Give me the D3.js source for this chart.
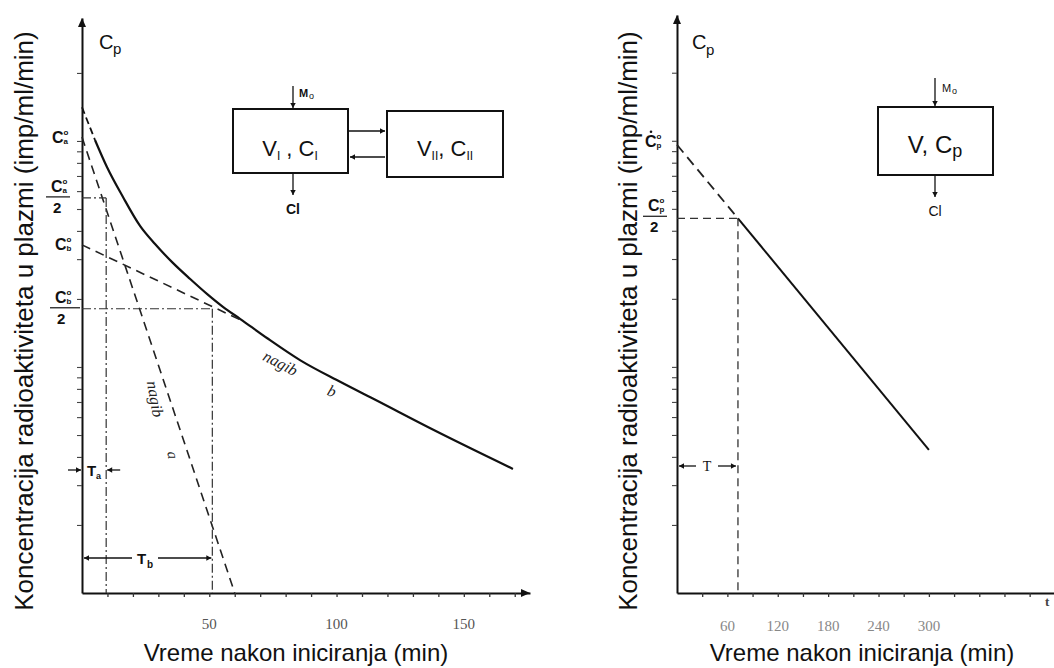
<!DOCTYPE html>
<html><head><meta charset="utf-8">
<script src="https://cdn.jsdelivr.net/npm/d3@7"></script>
<style>body{margin:0;background:#fff}svg{display:block}</style>
</head><body><svg id="c" width="1054" height="668"></svg>
<script>
// ---------- data ----------
// left panel (two-compartment model), time in min, concentration (log scale)
const curveDashT = [0, 5.1];
const curveDashC = [141, 101];
const curveT = [5.1, 9.8, 16.1, 22.8, 28.7, 35.8, 42.5, 49.2, 55.5, 62.2, 72.8, 85.8, 101.6, 115.4, 138.2, 169.3];
const curveC = [101, 76.7, 56.5, 42.1, 35.0, 28.8, 24.5, 21.0, 18.4, 16.3, 13.4, 10.7, 8.58, 7.14, 5.26, 3.54];
const lineAT = [0, 60];
const lineAC = [104, 1.0];
const lineBT = [0, 62];
const lineBC = [34.7, 16.2];
const halfA = 56, Ta = 9.5;
const halfB = 18.1, Tb = 51.2;
const ca0 = 104, cb0 = 34.7;
// right panel (one-compartment model)
const rLineT = [0, 300];
const rLineC = [96, 4.3];
const rT = 72.6, rHalf = 45.4, rC0 = 100;
// ticks
const yTicks = [2,3,4,5,6,7,8,9,10,20,30,40,50,60,70,80,90,100,200];
const xTicksL = [10,20,30,40,50,60,70,80,90,100,110,120,130,140,150,160,170];
const xLabelsL = [50,100,150];
const xTicksR = [30,60,90,120,150,180,210,240,270,300,330,360,390,420];
const xLabelsR = [60,120,180,240,300];
const yTitle = "Koncentracija radioaktiviteta u plazmi (imp/ml/min)";
const xTitle = "Vreme nakon iniciranja (min)";

// ---------- drawing ----------
const svg = d3.select("#c");
svg.append("rect").attr("width",1054).attr("height",668).attr("fill","#fff");

const yL = d3.scaleLog().domain([1, 350]).range([593, 18]);
const yR = d3.scaleLog().domain([1, 360]).range([593, 15]);
const xL = d3.scaleLinear().domain([0, 176]).range([82, 530]);
const xR = d3.scaleLinear().domain([0, 449]).range([677, 1054]);

const SANS = "'Liberation Sans', Arial, sans-serif";
const SERIF = "'Liberation Serif', 'DejaVu Serif', serif";

function axes(g, x, y, xt) {
  const ya = g.append("g").attr("transform", `translate(${x.range()[0]},0)`)
    .call(d3.axisLeft(y).tickValues(yTicks).tickSize(5).tickSizeOuter(0).tickFormat(""));
  ya.select(".domain").attr("stroke","#111").attr("stroke-width",2);
  ya.selectAll(".tick line").attr("stroke","#444").attr("stroke-width",1.1);
  const xa = g.append("g").attr("transform", `translate(0,593)`)
    .call(d3.axisBottom(x).tickValues(xt).tickSize(4).tickSizeOuter(0).tickFormat(""));
  xa.select(".domain").attr("stroke","#111").attr("stroke-width",2);
  xa.selectAll(".tick line").attr("stroke","#333").attr("stroke-width",1.3);
  const ax = x.range()[0], ay = y.range()[1];
  g.append("path").attr("d", `M${ax-4},${ay+9}L${ax},${ay}L${ax+4},${ay+9}Z`).attr("fill","#111");
}

const gL = svg.append("g");
const gR = svg.append("g");
axes(gL, xL, yL, xTicksL);
axes(gR, xR, yR, xTicksR);
gL.append("path").attr("d", `M${xL.range()[1]-9},589L${xL.range()[1]},593L${xL.range()[1]-9},597Z`).attr("fill","#111");

const line = (x, y) => d3.line().x(d => x(d[0])).y(d => y(d[1]));
const zip = (a, b) => a.map((v, i) => [v, b[i]]);

// main curve
gL.append("path").datum(zip(curveT, curveC))
  .attr("d", line(xL, yL).curve(d3.curveMonotoneX))
  .attr("fill","none").attr("stroke","#111").attr("stroke-width",2.2);
gL.append("path").datum(zip(curveDashT, curveDashC))
  .attr("d", line(xL, yL)).attr("fill","none").attr("stroke","#111")
  .attr("stroke-width",1.8).attr("stroke-dasharray","7,4");
// line a and line b (dashed)
gL.append("path").datum(zip(lineAT, lineAC)).attr("d", line(xL, yL))
  .attr("fill","none").attr("stroke","#222").attr("stroke-width",1.6).attr("stroke-dasharray","9,6");
gL.append("path").datum(zip(lineBT, lineBC)).attr("d", line(xL, yL))
  .attr("fill","none").attr("stroke","#222").attr("stroke-width",1.6).attr("stroke-dasharray","9,6");
// dash-dot construction lines
const dd = "9,3,2,3";
function dashDot(g, x1, y1, x2, y2) {
  g.append("line").attr("x1",x1).attr("y1",y1).attr("x2",x2).attr("y2",y2)
    .attr("stroke","#333").attr("stroke-width",1.2).attr("stroke-dasharray",dd);
}
dashDot(gL, xL(0), yL(halfA), xL(Ta), yL(halfA));
dashDot(gL, xL(Ta), yL(halfA), xL(Ta), yL(1));
dashDot(gL, xL(0), yL(halfB), xL(Tb), yL(halfB));
dashDot(gL, xL(Tb), yL(halfB), xL(Tb), yL(1));

// right line
gR.append("path").datum([[rLineT[0], rLineC[0]], [rT, rHalf]]).attr("d", line(xR, yR))
  .attr("fill","none").attr("stroke","#222").attr("stroke-width",1.8).attr("stroke-dasharray","10,6");
gR.append("path").datum([[rT, rHalf], [rLineT[1], rLineC[1]]]).attr("d", line(xR, yR))
  .attr("fill","none").attr("stroke","#111").attr("stroke-width",2);
gR.append("line").attr("x1",xR(0)).attr("x2",xR(rT)).attr("y1",yR(rHalf)).attr("y2",yR(rHalf))
  .attr("stroke","#333").attr("stroke-width",1.3).attr("stroke-dasharray","8,5");
gR.append("line").attr("x1",xR(rT)).attr("x2",xR(rT)).attr("y1",yR(rHalf)).attr("y2",yR(1))
  .attr("stroke","#333").attr("stroke-width",1.3).attr("stroke-dasharray","8,5");

// ---------- text ----------
function txt(g, x, y, s, size, opts = {}) {
  const t = g.append("text").attr("x",x).attr("y",y).text(s)
    .attr("font-family", opts.family || SANS).attr("font-size", size)
    .attr("fill", opts.fill || "#111");
  if (opts.anchor) t.attr("text-anchor", opts.anchor);
  if (opts.weight) t.attr("font-weight", opts.weight);
  if (opts.style) t.attr("font-style", opts.style);
  if (opts.rotate !== undefined) t.attr("transform", `rotate(${opts.rotate},${x},${y})`);
  return t;
}
// C with stacked superscript o and subscript
function cLab(g, x, y, sub, size = 16) {
  txt(g, x, y, "C", size, {weight:"bold"});
  txt(g, x + size*0.72, y - size*0.5, "o", size*0.5, {weight:"bold"});
  txt(g, x + size*0.72, y + 1, sub, size*0.5, {weight:"bold"});
}
function frac(g, x, y, sub, barW) {
  cLab(g, x, y, sub);
  g.append("line").attr("x1",x-5).attr("x2",x-5+barW).attr("y1",y+5).attr("y2",y+5)
    .attr("stroke","#333").attr("stroke-width",1.4);
  txt(g, x + 2, y + 21, "2", 15, {weight:"bold"});
}
// axis titles
txt(svg, 33, 321, yTitle, 26, {anchor:"middle", rotate:-90});
txt(svg, 637, 321, yTitle, 26, {anchor:"middle", rotate:-90});
txt(svg, 296, 661, xTitle, 24, {anchor:"middle"});
txt(svg, 862, 661, xTitle, 24, {anchor:"middle"});

// x tick labels
xLabelsL.forEach(v => txt(gL, xL(v), 629, String(v), 15, {anchor:"middle", family:SERIF, fill:"#555"}));
xLabelsR.forEach(v => txt(gR, xR(v), 631, String(v), 15, {anchor:"middle", family:SERIF, fill:"#888"}));
txt(gR, 1045, 606, "t", 13, {family:SERIF, weight:"bold", fill:"#444"});

// C_p axis names
txt(gL, 99, 49, "C", 20); txt(gL, 113, 54, "p", 15);
txt(gR, 692, 49, "C", 20); txt(gR, 706, 55, "p", 15);

// left y labels
cLab(gL, 52, yL(ca0) + 6, "a");
frac(gL, 51, yL(halfA) - 6, "a", 24);
cLab(gL, 55, yL(cb0) + 5, "b");
frac(gL, 55, yL(halfB) - 6, "b", 30);
// right y labels
cLab(gR, 645, yR(rC0) + 6, "p");
gR.append("circle").attr("cx", 651).attr("cy", yR(rC0) - 9).attr("r", 1.3).attr("fill", "#111");
frac(gR, 648, yR(rHalf) - 7, "p", 24);

// arrows helper
function arrow(g, x1, y1, x2, y2, w = 1.3, hs = 5) {
  g.append("line").attr("x1",x1).attr("y1",y1).attr("x2",x2).attr("y2",y2)
    .attr("stroke","#111").attr("stroke-width",w);
  const a = Math.atan2(y2-y1, x2-x1);
  const p = [[x2, y2],
    [x2 - hs*Math.cos(a) + hs*0.55*Math.sin(a), y2 - hs*Math.sin(a) - hs*0.55*Math.cos(a)],
    [x2 - hs*Math.cos(a) - hs*0.55*Math.sin(a), y2 - hs*Math.sin(a) + hs*0.55*Math.cos(a)]];
  g.append("path").attr("d", "M" + p.join("L") + "Z").attr("fill","#111");
}
// T_a, T_b markers
const yTa = 470, yTb = 558;
arrow(gL, xL(0) - 14, yTa, xL(0) - 1, yTa);
txt(gL, 87, yTa + 6, "T", 15, {weight:"bold"}); txt(gL, 96, yTa + 9, "a", 9, {weight:"bold"});
arrow(gL, xL(Ta) + 14, yTa, xL(Ta) + 1, yTa);
arrow(gL, 132, yTb, xL(0) + 2, yTb);
txt(gL, 137, yTb + 6, "T", 15, {weight:"bold"}); txt(gL, 147, yTb + 10, "b", 10, {weight:"bold"});
arrow(gL, 158, yTb, xL(Tb) - 1, yTb);
// T right
arrow(gR, 696, 466, xR(0) + 2, 466);
txt(gR, 707, 471, "T", 14, {family:SERIF, anchor:"middle"});
arrow(gR, 718, 466, xR(rT) - 2, 466);

// nagib labels
txt(gL, 278, 368, "nagib", 16, {family:SERIF, style:"italic", anchor:"middle", rotate:27, fill:"#222"});
txt(gL, 330, 396, "b", 16, {family:SERIF, style:"italic", anchor:"middle", rotate:20, fill:"#222"});
txt(gL, 150, 400, "nagib", 16, {family:SERIF, style:"italic", anchor:"middle", rotate:80, fill:"#222"});
txt(gL, 168, 456, "a", 15, {family:SERIF, style:"italic", anchor:"middle", rotate:80, fill:"#222"});

// compartment boxes
function box(g, x, y, w, h) {
  g.append("rect").attr("x",x).attr("y",y).attr("width",w).attr("height",h)
    .attr("fill","none").attr("stroke","#111").attr("stroke-width",2);
}
box(gL, 233, 109, 115, 64);
box(gL, 387, 111, 116, 66);
const v1 = txt(gL, 290, 156, "", 22, {anchor:"middle"});
v1.append("tspan").text("V");
v1.append("tspan").text("I").attr("font-size",12).attr("dy",4);
v1.append("tspan").text(" , C").attr("dy",-4);
v1.append("tspan").text("I").attr("font-size",12).attr("dy",4);
const v2 = txt(gL, 445, 156, "", 22, {anchor:"middle"});
v2.append("tspan").text("V");
v2.append("tspan").text("II").attr("font-size",12).attr("dy",4);
v2.append("tspan").text(",  C").attr("dy",-4);
v2.append("tspan").text("II").attr("font-size",12).attr("dy",4);
arrow(gL, 293, 86, 293, 108);
txt(gL, 299, 97, "M", 11, {weight:"bold"}); txt(gL, 309, 99, "o", 9);
arrow(gL, 293, 173, 293, 195);
txt(gL, 293, 214, "Cl", 14, {anchor:"middle", weight:"bold"});
arrow(gL, 349, 131, 385, 131);
arrow(gL, 385, 157, 350, 157);

box(gR, 878, 107, 115, 68);
const v3 = txt(gR, 935, 153, "", 24, {anchor:"middle"});
v3.append("tspan").text("V, C");
v3.append("tspan").text("p").attr("font-size",18).attr("dy",4);
arrow(gR, 935, 78, 935, 106);
txt(gR, 942, 92, "M", 11); txt(gR, 952, 94, "o", 9);
arrow(gR, 935, 175, 935, 197);
txt(gR, 935, 216, "Cl", 14, {anchor:"middle"});
</script></body></html>
